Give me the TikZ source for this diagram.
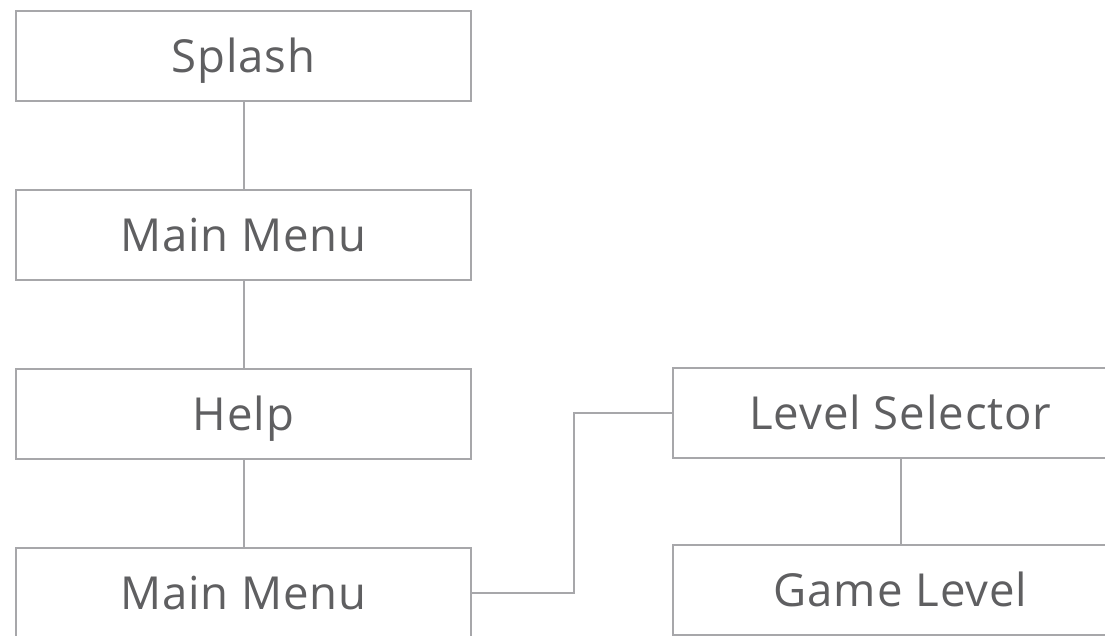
\documentclass[tikz,border=0pt]{standalone}
\usepackage{fontspec}
\setmainfont[LetterSpace=2.0]{Open Sans}
\definecolor{boxline}{HTML}{A7A7AA}
\definecolor{boxtext}{HTML}{5F5F61}
\begin{document}
\begin{tikzpicture}[x=1pt,y=-1pt,
  screen/.style={draw=boxline,line width=2pt,fill=white,minimum width=455pt,minimum height=90pt,
    inner sep=0pt,text height=33pt,text depth=0pt,text=boxtext,font=\fontsize{45.5}{52}\selectfont,anchor=center},
  link/.style={draw=boxline,line width=2pt}]
\useasboundingbox (0,0) rectangle (1105,635);
\node[screen] (splash) at (243.5,56) {Splash};
\node[screen] (mm1) at (243.5,235) {Main Menu};
\node[screen] (help) at (243.5,414) {Help};
\node[screen] (mm2) at (243.5,593) {Main Menu};
\node[screen] (ls) at (900.5,413) {Level Selector};
\node[screen] (gl) at (900.5,590) {Game Level};
\draw[link] (splash) -- (mm1);
\draw[link] (mm1) -- (help);
\draw[link] (help) -- (mm2);
\draw[link] (ls) -- (gl);
\draw[link] (mm2.east) -- ++(102,0) |- (ls.west);
\end{tikzpicture}
\end{document}
